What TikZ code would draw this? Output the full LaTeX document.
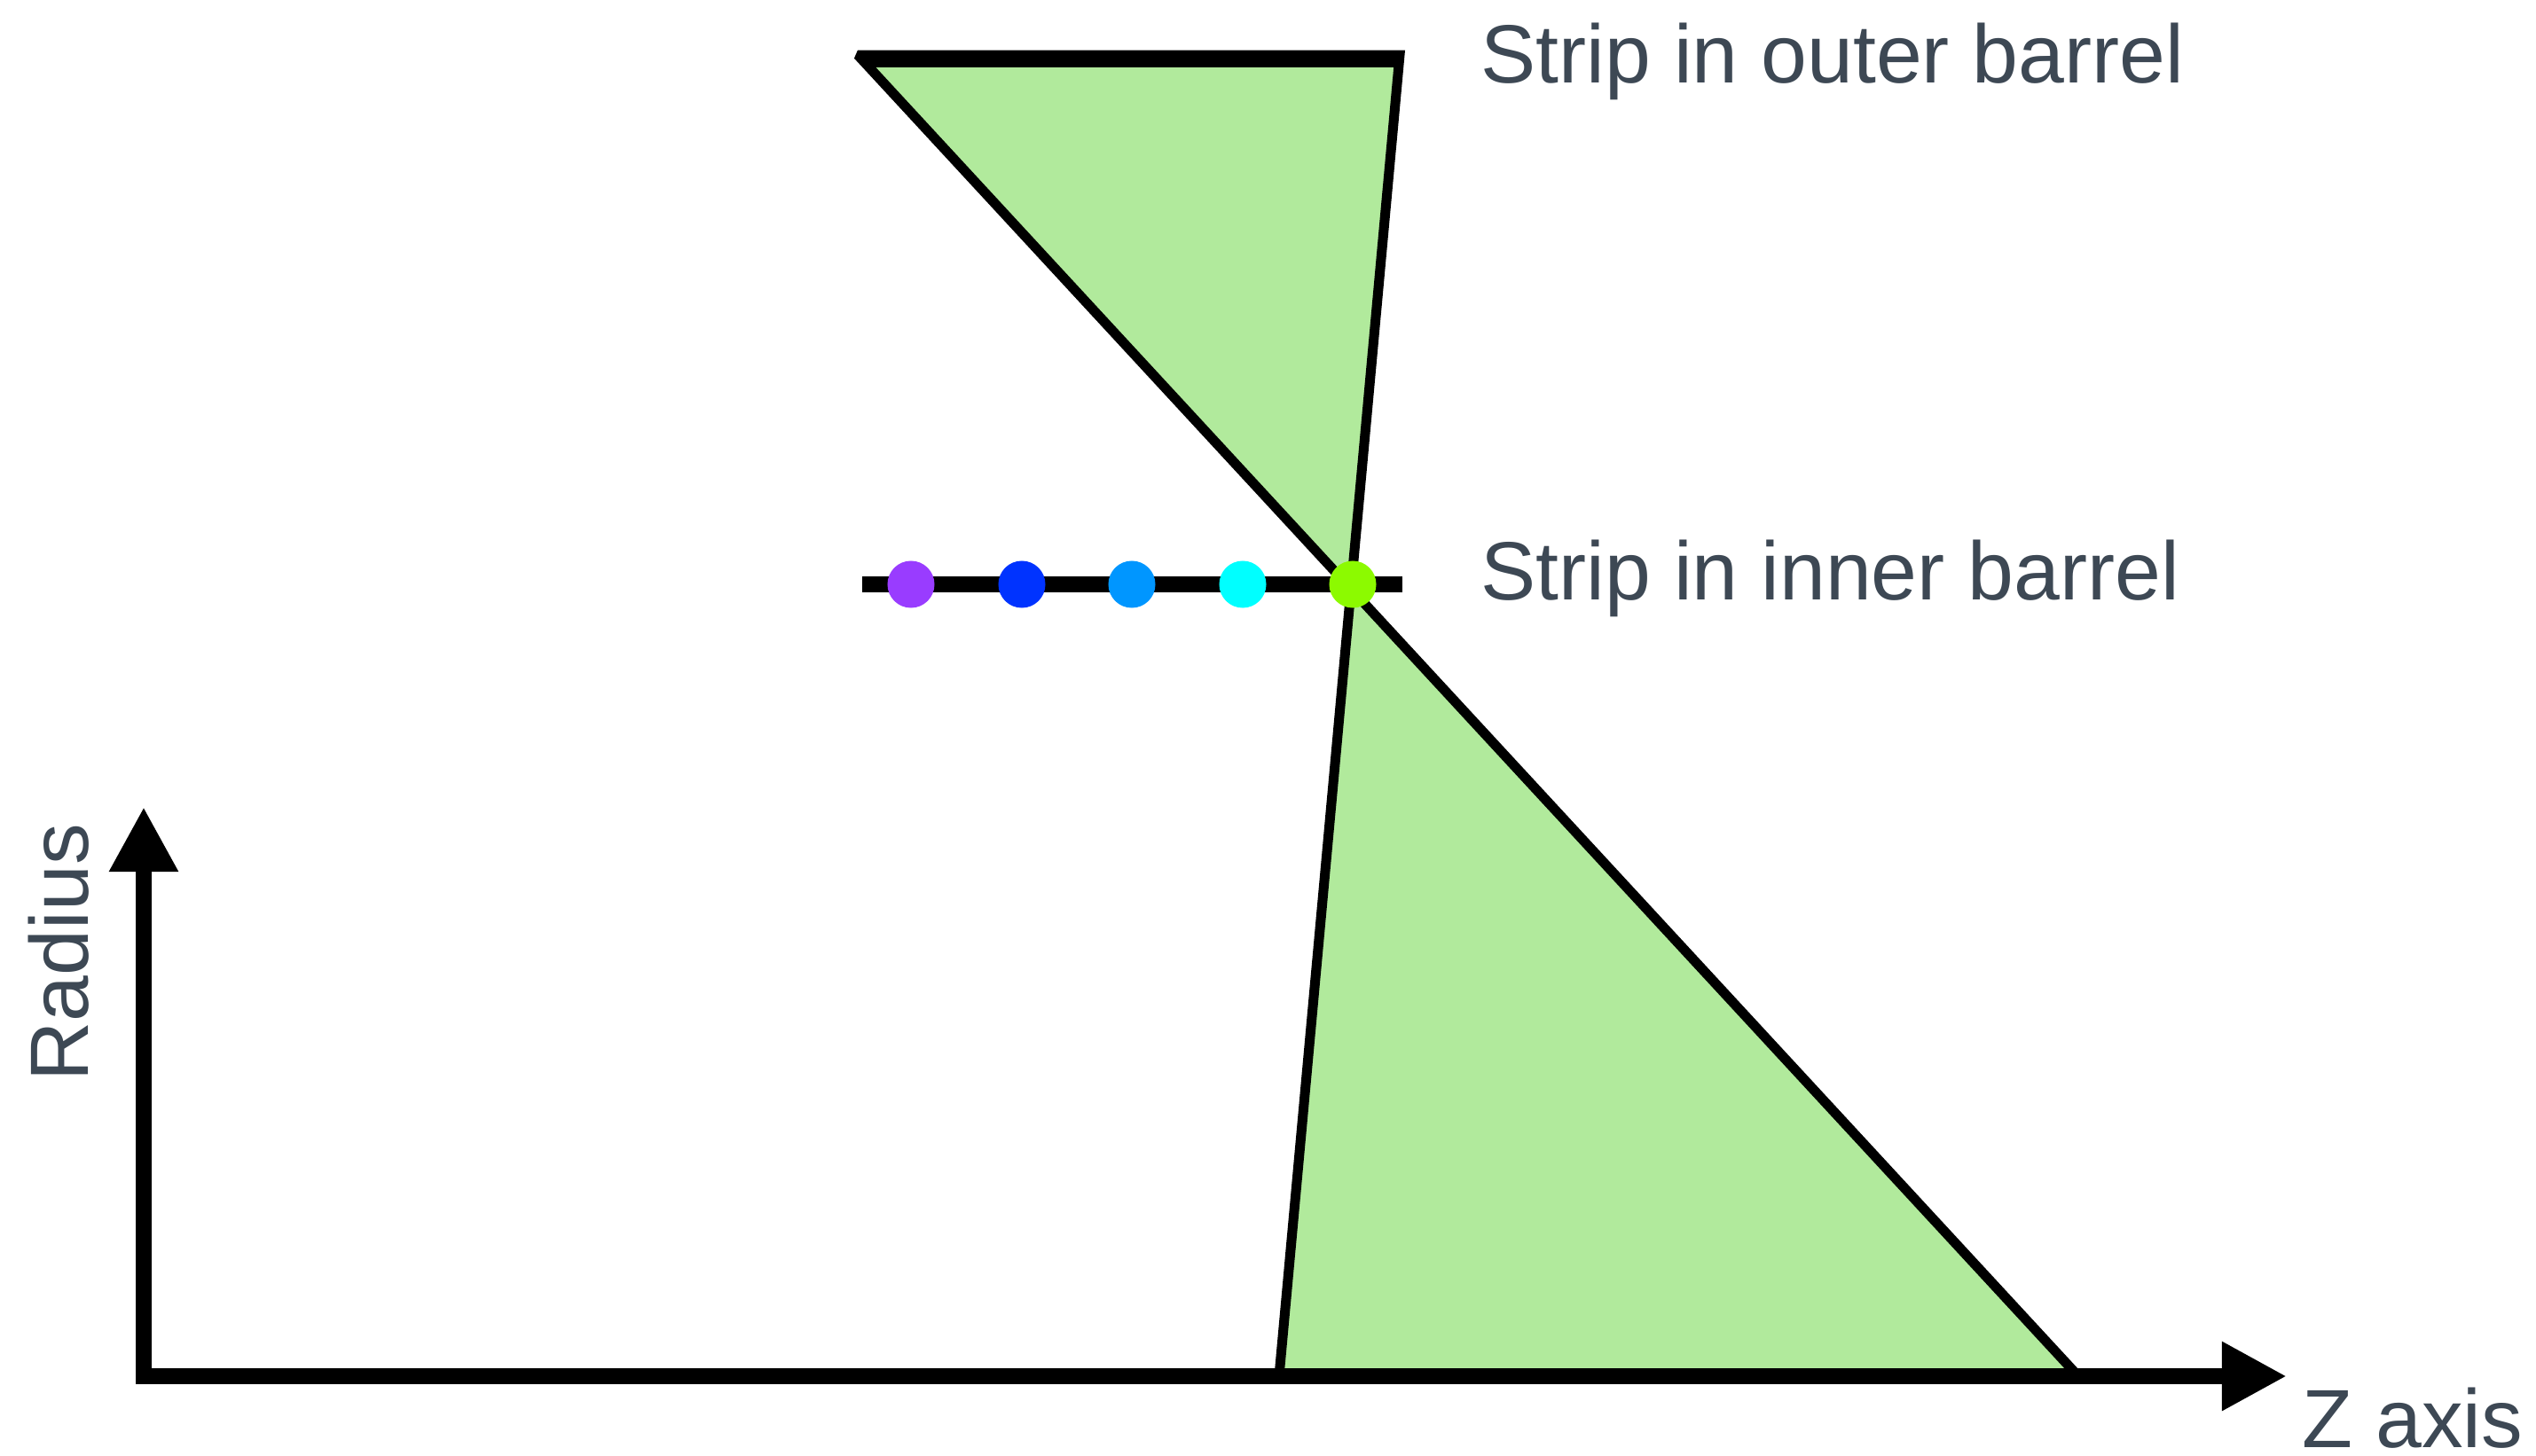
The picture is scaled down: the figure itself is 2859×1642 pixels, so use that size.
\documentclass[tikz,border=0pt]{standalone}
\usepackage{fontspec}
\setmainfont{Liberation Sans}
\usepackage{tikz}
\usetikzlibrary{arrows.meta, positioning, calc}
\definecolor{labelgray}{RGB}{61, 72, 84}
\definecolor{conegreen}{RGB}{177, 234, 156}
\definecolor{hitviolet}{RGB}{153, 60, 255}
\definecolor{hitblue}{RGB}{0, 51, 255}
\definecolor{hitazure}{RGB}{0, 150, 255}
\definecolor{hitcyan}{RGB}{0, 255, 255}
\definecolor{hitlime}{RGB}{140, 250, 0}

\tikzset{
    axisline/.style={line width=0.18cm, line cap=rect,
                     -{Triangle[length=0.73cm, width=0.73cm]}},
    stripline/.style={line width=0.18cm},
    hitdot/.style={circle, inner sep=0pt, minimum size=0.53cm},
    axislabel/.style={inner sep=0pt, text=labelgray,
                      font=\fontsize{26.5}{32}\selectfont},
}

\begin{document}
\begin{tikzpicture}[x=0.01cm, y=-0.01cm]
            \useasboundingbox (0,0) rectangle (2859,1642);
            % cone between the two strips
            \draw[fill=conegreen, line width=0.11cm, miter limit=2]
                (967,62) -- (1578,62) -- (1442,1552) -- (2343,1552) -- cycle;
            % axes
            \coordinate (origin) at (162,1552);
            \coordinate (ztip) at (2578,1552);
            \coordinate (rtip) at (162,910);
            \draw[axisline] (origin) -- (ztip);
            \draw[axisline] (origin) -- (rtip);
            % strips
            \coordinate (outerL) at (972,67);
            \coordinate (outerR) at (1581,67);
            \coordinate (innerL) at (972,659);
            \coordinate (innerR) at (1581,659);
            \draw[stripline] (outerL) -- (outerR);
            \draw[stripline] (innerL) -- (innerR);
            \foreach \x/\c [count=\i] in {1027/hitviolet, 1152/hitblue, 1276/hitazure,
                                          1401/hitcyan, 1525/hitlime}
                \node[hitdot, fill=\c] (hit\i) at (\x,659) {};
            % labels
            \node[axislabel, anchor=base west] (outerlabel) at (1669,93) {Strip in outer barrel};
            \node[axislabel, anchor=base west] (innerlabel) at (1669,676) {Strip in inner barrel};
            \node[axislabel, anchor=base west] (zlabel) at (2595,1632) {Z axis};
            \node[axislabel, anchor=base west, rotate=90] (rlabel) at (100,1220) {Radius};
        \end{tikzpicture}
\end{document}
